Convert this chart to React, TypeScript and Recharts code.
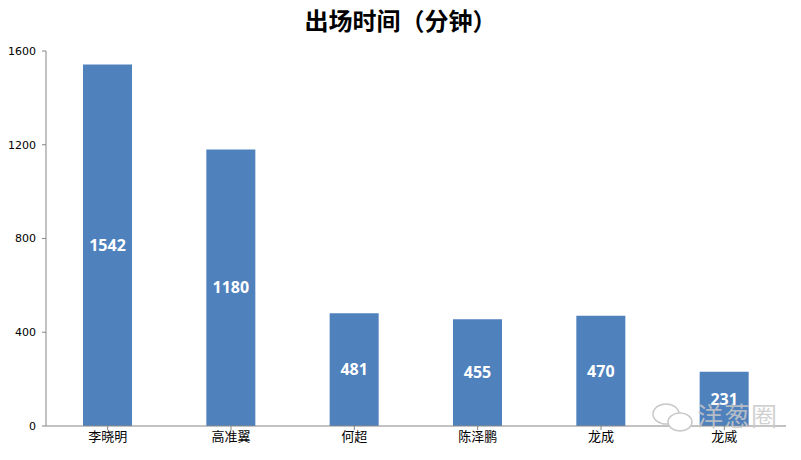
import { Bar, BarChart, LabelList, XAxis, YAxis } from "recharts";

const PLAYERS = ["李晓明", "高准翼", "何超", "陈泽鹏", "龙成", "龙威"];
const MINUTES = [1542, 1180, 481, 455, 470, 231];
const Y_TICKS = [0, 400, 800, 1200, 1600];

const rows = PLAYERS.map((name, i) => ({ name, minutes: MINUTES[i] }));

const AXIS = "#868686";

export default function App() {
  return (
    <div style={{ position: "absolute", left: 0, top: 0, width: 801, height: 460, background: "#fff" }}>
      <div
        style={{
          position: "absolute",
          left: 0,
          top: 2,
          width: 801,
          textAlign: "center",
          fontFamily: "'Noto Sans CJK SC'",
          fontWeight: "bold",
          fontSize: 24,
          color: "#000",
        }}
      >
        出场时间（分钟）
      </div>
      <BarChart
        width={801}
        height={460}
        data={rows}
        margin={{ top: 51, right: 15, bottom: 4, left: 6 }}
        barCategoryGap="30%"
      >
        <XAxis
          dataKey="name"
          height={30}
          stroke={AXIS}
          tickSize={4}
          tick={{ fill: "#000", fontSize: 13, fontFamily: "'Noto Sans CJK SC'" }}
          tickMargin={2}
        />
        <YAxis
          width={40}
          domain={[0, 1600]}
          ticks={Y_TICKS}
          stroke={AXIS}
          tickSize={4}
          tickMargin={6}
          tick={{ fill: "#000", fontSize: 11, fontFamily: "'DejaVu Sans'" }}
        />
        <Bar dataKey="minutes" fill="#4F81BD" isAnimationActive={false}>
          <LabelList
            dataKey="minutes"
            position="center"
            fill="#fff"
            fontSize={16}
            fontWeight="bold"
            fontFamily="'Open Sans'"
          />
        </Bar>
      </BarChart>
      <svg style={{ position: "absolute", left: 650, top: 402 }} width={48} height={32}>
        <ellipse cx={16} cy={12} rx={13} ry={10} fill="none" stroke="#c8c8c8" strokeWidth={1.5} />
        <ellipse cx={30} cy={20} rx={12} ry={9} fill="#fff" stroke="#c8c8c8" strokeWidth={1.5} />
      </svg>
      <div
        style={{
          position: "absolute",
          left: 697,
          top: 401,
          lineHeight: "28px",
          fontFamily: "'Noto Sans CJK SC'",
          fontSize: 26,
          color: "rgba(200,200,200,0.85)",
          letterSpacing: 1,
        }}
      >
        洋葱圈
      </div>
    </div>
  );
}
